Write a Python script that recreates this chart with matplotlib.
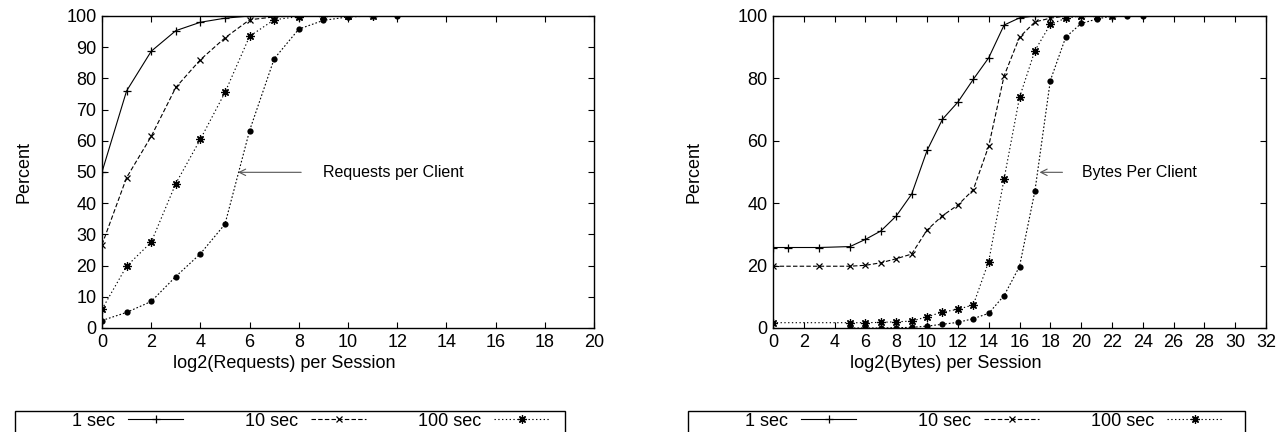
import matplotlib
matplotlib.use("Agg")
import matplotlib.pyplot as plt
from matplotlib.patches import Rectangle

plt.rcParams['font.family'] = ['Liberation Sans', 'DejaVu Sans']
plt.rcParams['font.size'] = 12

# Cumulative distribution of requests per session (log2 scale)
req_x_1 = [0, 1, 2, 3, 4, 5, 6, 7, 8, 9]
req_y_1 = [50, 76, 88.7, 95.3, 98, 99.3, 100, 100, 100, 100]
req_x_10 = [0, 1, 2, 3, 4, 5, 6, 7, 8, 9, 10]
req_y_10 = [26.7, 48.2, 61.4, 77.1, 86, 93, 98.8, 99.7, 100, 100, 100]
req_x_100 = [0, 1, 2, 3, 4, 5, 6, 7, 8, 9, 10, 11]
req_y_100 = [6, 19.8, 27.5, 46.3, 60.5, 75.5, 93.5, 98.8, 99.8, 100, 100, 100]
req_x_1000 = [0, 1, 2, 3, 4, 5, 6, 7, 8, 9, 10, 11, 12]
req_y_1000 = [2.4, 5, 8.5, 16.5, 23.8, 33.3, 63.3, 86.3, 95.8, 98.6, 99.7, 100, 100]

# Cumulative distribution of bytes per session (log2 scale)
byt_x_1 = [0, 1, 3, 5, 6, 7, 8, 9, 10, 11, 12, 13, 14, 15, 16, 17, 18, 19, 20]
byt_y_1 = [25.8, 25.8, 25.8, 26.1, 28.4, 31.1, 35.9, 42.9, 56.9, 66.9, 72.4,
           79.7, 86.6, 97.1, 99.4, 100, 100, 100, 100]
byt_x_10 = [0, 3, 5, 6, 7, 8, 9, 10, 11, 12, 13, 14, 15, 16, 17, 18, 19, 20, 21]
byt_y_10 = [19.8, 19.8, 19.8, 20.1, 20.9, 22.2, 23.7, 31.4, 36, 39.4, 44.3,
            58.3, 80.8, 93.2, 98.1, 99.3, 100, 100, 100]
byt_x_100 = [0, 5, 6, 7, 8, 9, 10, 11, 12, 13, 14, 15, 16, 17, 18, 19, 20, 21, 22]
byt_y_100 = [1.7, 1.7, 1.7, 1.8, 2, 2.2, 3.6, 5.1, 6, 7.4, 21.3, 47.8, 73.9,
             88.9, 97.3, 99.3, 100, 100, 100]
byt_x_1000 = [5, 6, 7, 8, 9, 10, 11, 12, 13, 14, 15, 16, 17, 18, 19, 20, 21, 22, 23, 24]
byt_y_1000 = [0, 0, 0, 0.1, 0.2, 0.6, 1.2, 1.8, 3, 4.7, 10.4, 19.7, 43.9, 79.3,
              93.2, 97.6, 99, 100, 100, 100]

series_labels = ["1 sec", "10 sec", "100 sec", "1000 sec"]

# gnuplot-like styles: line pattern and point type per series
styles = [
    dict(linestyle='-', marker='+', markersize=6, markeredgewidth=0.9),
    dict(linestyle=(0, (4, 2)), marker='x', markersize=5, markeredgewidth=0.9),
    dict(linestyle=(0, (1.2, 2.2)), marker=(8, 2, 0), markersize=6, markeredgewidth=0.9),
    dict(linestyle=(0, (1.5, 1.8)), marker='o', markersize=4.5, markeredgewidth=0),
]

fig = plt.figure(figsize=(12.88, 4.32), dpi=100)
W, H = 1288.0, 432.0
KEY_FONT = 13
KEY_PX = KEY_FONT * 100 / 72.0


def make_axes(x0, x1, y0=16, y1=328):
    return fig.add_axes([x0 / W, 1 - y1 / H, (x1 - x0) / W, (y1 - y0) / H])


def style_axes(ax, xmax, xstep, ystep):
    ax.set_xlim(0, xmax)
    ax.set_ylim(0, 100)
    ax.set_xticks(range(0, xmax + 1, xstep))
    ax.set_yticks(range(0, 101, ystep))
    ax.tick_params(direction='in', length=4, width=0.8, top=True, right=True,
                   labelsize=13, pad=4)
    for sp in ax.spines.values():
        sp.set_linewidth(1.0)
    ax.set_ylabel("Percent", fontsize=13)


def draw(ax, data):
    handles = []
    for (xs, ys), st, lab in zip(data, styles, series_labels):
        h, = ax.plot(xs, ys, color='black', linewidth=0.8, label=lab,
                     markerfacecolor='black', markeredgecolor='black', **st)
        handles.append(h)
    return handles


def add_key(handles, x0, x1, top=411, col_w=183, text_end=100, gap=13, sample=55):
    # key box whose lower edge lies below the canvas, one right-justified entry per column
    fig.add_artist(Rectangle((x0 / W, -0.2), (x1 - x0) / W, 0.2 + 1 - top / H,
                             transform=fig.transFigure, fill=False,
                             edgecolor='black', linewidth=1.0))
    for k in range(3):
        right = x0 + text_end + k * col_w + gap + sample
        leg = fig.legend(handles=[handles[k]], labels=[series_labels[k]],
                         loc='center right',
                         bbox_to_anchor=(right / W, 1 - (top + 10) / H),
                         markerfirst=False, frameon=False,
                         handlelength=sample / KEY_PX, handletextpad=gap / KEY_PX,
                         borderpad=0, borderaxespad=0, fontsize=KEY_FONT)


# Left panel: requests
axL = make_axes(102, 594)
hL = draw(axL, [(req_x_1, req_y_1), (req_x_10, req_y_10),
                (req_x_100, req_y_100), (req_x_1000, req_y_1000)])
style_axes(axL, 20, 2, 10)
axL.set_xlabel("log2(Requests) per Session", fontsize=13)
axL.xaxis.set_label_coords(0.37, -0.085, transform=axL.transAxes)
axL.yaxis.set_label_coords(-0.142, 0.5)
axL.annotate("Requests per Client", xy=(5.53, 49.9), xytext=(9.0, 49.9),
             va='center', ha='left', fontsize=11.5,
             arrowprops=dict(arrowstyle='->', color='#555555', lw=0.8,
                             shrinkA=14, shrinkB=0))

# Right panel: bytes
axR = make_axes(773, 1266)
hR = draw(axR, [(byt_x_1, byt_y_1), (byt_x_10, byt_y_10),
                (byt_x_100, byt_y_100), (byt_x_1000, byt_y_1000)])
style_axes(axR, 32, 2, 20)
axR.set_xlabel("log2(Bytes) per Session", fontsize=13)
axR.xaxis.set_label_coords(0.35, -0.085, transform=axR.transAxes)
axR.yaxis.set_label_coords(-0.144, 0.5)
axR.annotate("Bytes Per Client", xy=(17.3, 49.9), xytext=(20.05, 49.9),
             va='center', ha='left', fontsize=11.5,
             arrowprops=dict(arrowstyle='->', color='#555555', lw=0.8,
                             shrinkA=12, shrinkB=0))

add_key(hL, 15, 565)
add_key(hR, 688, 1245)

fig.savefig("out.png", dpi=100)
